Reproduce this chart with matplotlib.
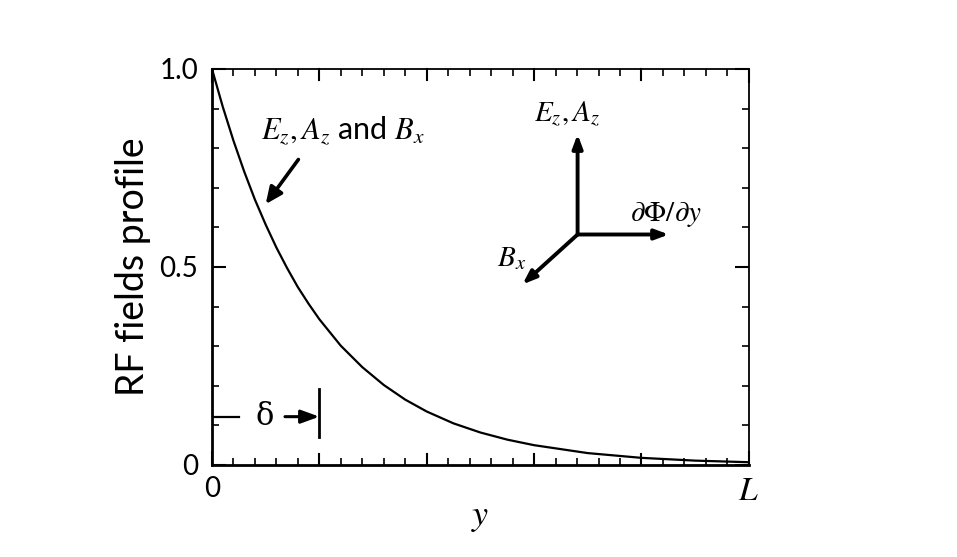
import matplotlib
matplotlib.use("Agg")
import matplotlib.pyplot as plt
from matplotlib.ticker import MultipleLocator

plt.rcParams['font.family'] = ['Lato', 'DejaVu Sans']
plt.rcParams['mathtext.fontset'] = 'stix'

# field profile (y in units of delta, L = 5 delta)
y_pos = [0, 0.1, 0.2, 0.3, 0.4, 0.5, 0.6, 0.7, 0.8, 0.9, 1.0, 1.2, 1.4, 1.6,
         1.8, 2.0, 2.25, 2.5, 2.75, 3.0, 3.5, 4.0, 4.5, 5.0]
profile = [1.0, 0.905, 0.819, 0.741, 0.670, 0.607, 0.549, 0.497, 0.449, 0.407,
           0.368, 0.301, 0.247, 0.202, 0.165, 0.135, 0.105, 0.082, 0.064,
           0.050, 0.030, 0.018, 0.011, 0.007]

x_ticks = [0, 5]
x_labels = ["0", r"$L$"]
y_ticks = [0, 0.5, 1.0]
y_labels = ["0", "0.5", "1.0"]
delta = 1.0

fig = plt.figure(figsize=(9.57, 5.57), dpi=100)
ax = fig.add_axes([0.2215, 0.1652, 0.561, 0.711])

ax.plot(y_pos, profile, color="black", lw=1.6)

ax.set_xlim(0, 5)
ax.set_ylim(0, 1)
ax.xaxis.set_minor_locator(MultipleLocator(0.2))
ax.yaxis.set_minor_locator(MultipleLocator(0.1))
ax.set_xticks(x_ticks)
ax.set_xticklabels(x_labels)
ax.set_yticks(y_ticks)
ax.set_yticklabels(y_labels)

# inner ticks on all four sides
ax.tick_params(which="both", direction="in", top=True, right=True, colors="black")
ax.tick_params(which="major", length=10, width=1.5, labelsize=20)
ax.tick_params(axis="y", which="major", pad=10)
ax.tick_params(axis="x", which="major", pad=8)
ax.tick_params(which="minor", length=5, width=1.2)
# unlabeled majors at 1..4 on x
for xv in [1, 2, 3, 4]:
    ax.plot([xv, xv], [0, 0.028], color="black", lw=1.5, clip_on=False)
    ax.plot([xv, xv], [1, 1 - 0.028], color="black", lw=1.5, clip_on=False)
ax.get_xticklabels()[1].set_fontsize(24)

for side in ["left", "bottom"]:
    ax.spines[side].set_linewidth(2.0)
for side in ["top", "right"]:
    ax.spines[side].set_linewidth(1.3)

ax.set_ylabel("RF fields profile", fontsize=27, labelpad=6)
ax.set_xlabel(r"$y$", fontsize=26, labelpad=-4)

# curve annotation
ax.text(1.22, 0.843, r"$E_z, A_z$ and $B_x$", fontsize=22, ha="center", va="center")
ax.annotate("", xy=(0.485, 0.653), xytext=(0.82, 0.777),
            arrowprops=dict(arrowstyle="-|>,head_length=1.0,head_width=0.45",
                            color="black", lw=2.6))

# skin depth marker
ax.plot([0, 0.25], [0.122, 0.122], color="black", lw=1.6)
ax.text(0.49, 0.122, "δ", fontsize=22, ha="center", va="center",
        family=["DejaVu Serif"])
ax.annotate("", xy=(delta, 0.122), xytext=(0.68, 0.122),
            arrowprops=dict(arrowstyle="-|>,head_length=1.1,head_width=0.4",
                            color="black", lw=2.2, shrinkA=0, shrinkB=0))
ax.plot([delta, delta], [0.071, 0.192], color="black", lw=2.0)

# field directions
origin = (3.405, 0.582)
arrow_heads = [(3.405, 0.835), (4.254, 0.582), (2.892, 0.456)]
for head in arrow_heads:
    ax.annotate("", xy=head, xytext=origin,
                arrowprops=dict(arrowstyle="-|>,head_length=0.8,head_width=0.3",
                                color="black", lw=2.8, shrinkA=0, shrinkB=0))
ax.text(3.31, 0.886, r"$E_z, A_z$", fontsize=21, ha="center", va="center")
ax.text(4.23, 0.632, r"$\partial\Phi/\partial y$", fontsize=21, ha="center", va="center")
ax.text(2.79, 0.52, r"$B_x$", fontsize=21, ha="center", va="center")

fig.savefig("out.png", dpi=100)
